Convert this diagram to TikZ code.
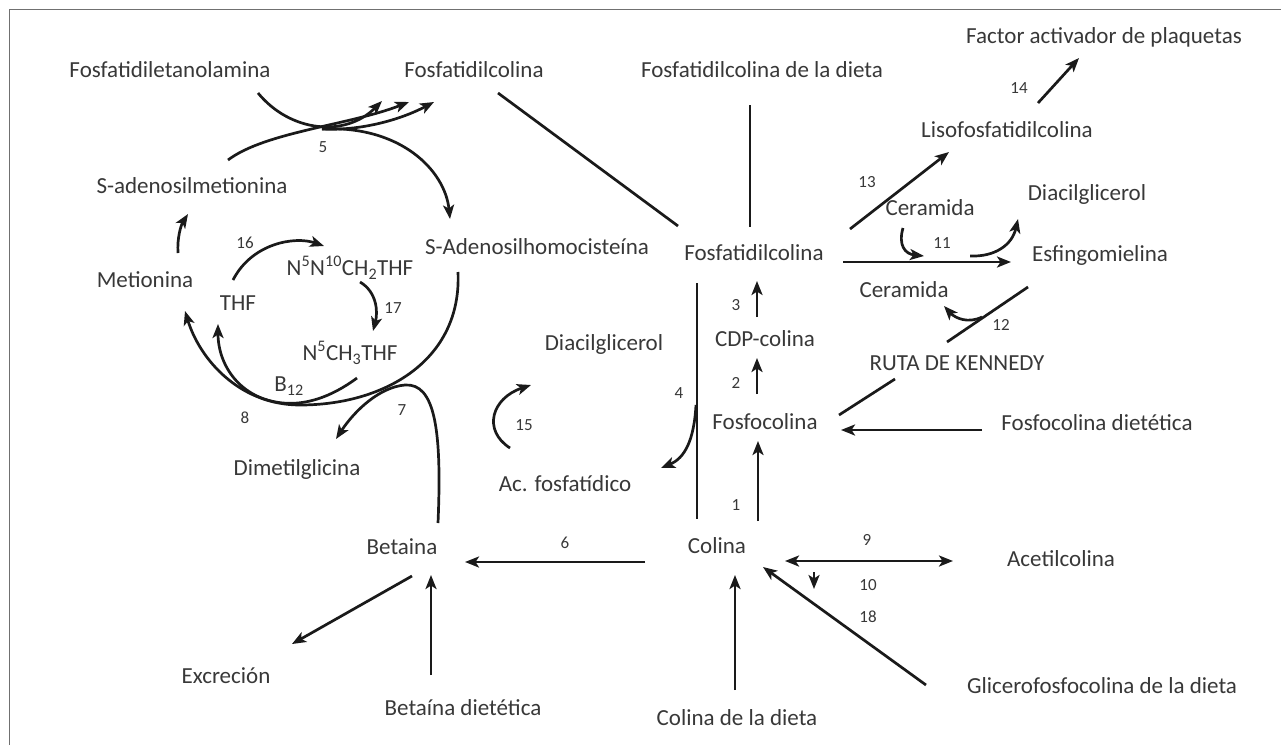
\documentclass[tikz,border=0pt]{standalone}
\usepackage{fontspec}
\setmainfont{Carlito}
\usetikzlibrary{arrows.meta}
\definecolor{txt}{HTML}{383838}
\definecolor{ln}{HTML}{1A1A1A}
\definecolor{frm}{HTML}{707070}
\begin{document}
\begin{tikzpicture}[x=1pt,y=-1pt,
  lbl/.style={text=txt, inner sep=0pt, font=\fontsize{23}{26}\selectfont, text height=15pt, text depth=0pt},
  num/.style={text=txt, inner sep=0pt, font=\fontsize{17}{19}\selectfont, text height=11pt, text depth=0pt},
  con/.style={draw=ln, line width=2.7pt},
  arr/.style={con, -{Stealth[length=14pt,width=11pt,inset=3.5pt]}},
  darr/.style={con, {Stealth[length=14pt,width=11pt,inset=3.5pt]}-{Stealth[length=14pt,width=11pt,inset=3.5pt]}}]
\useasboundingbox (0,0) rectangle (1281,745);
\draw[frm, line width=1.5pt] (9.5,745) -- (9.5,9.5) -- (1281,9.5);

% ---------- nodes ----------
\node[lbl] (fe)    at (170,70)  {Fosfatidiletanolamina};
\node[lbl] (pc1)   at (474,70)  {Fosfatidilcolina};
\node[lbl] (pcd)   at (762,70)  {Fosfatidilcolina de la dieta};
\node[lbl] (paf)   at (1104,36) {Factor activador de plaquetas};
\node[lbl] (lpc)   at (1007,130) {Lisofosfatidilcolina};
\node[lbl] (sam)   at (192,186) {S-adenosilmetionina};
\node[lbl] (met)   at (145,280) {Metionina};
\node[lbl] (thf)   at (238,303) {THF};
\node[lbl] (n5n10) at (350,268) {N\textsuperscript{5}N\textsuperscript{10}CH\textsubscript{2}THF};
\node[lbl] (n5ch3) at (350,353) {N\textsuperscript{5}CH\textsubscript{3}THF};
\node[lbl] (b12)   at (289,384) {B\textsubscript{12}};
\node[lbl] (sah)   at (537,247) {S-Adenosilhomocisteína};
\node[lbl] (pc)    at (754,253) {Fosfatidilcolina};
\node[lbl] (cer1)  at (930,208) {Ceramida};
\node[lbl] (dag2)  at (1087,193) {Diacilglicerol};
\node[lbl] (esf)   at (1100,254) {Esfingomielina};
\node[lbl] (cer2)  at (904,290) {Ceramida};
\node[lbl] (ken)   at (957,363) {RUTA DE KENNEDY};
\node[lbl] (cdp)   at (765,339) {CDP-colina};
\node[lbl] (pcho)  at (765,422) {Fosfocolina};
\node[lbl] (pchod) at (1097,423) {Fosfocolina dietética};
\node[lbl] (dag1)  at (604,343) {Diacilglicerol};
\node[lbl] (pa)    at (565,484) {Ac. fosfatídico};
\node[lbl] (dmg)   at (297,468) {Dimetilglicina};
\node[lbl] (bet)   at (402,547) {Betaina};
\node[lbl] (col)   at (717,546) {Colina};
\node[lbl] (ach)   at (1061,559) {Acetilcolina};
\node[lbl] (exc)   at (226,676) {Excreción};
\node[lbl] (betd)  at (463,708) {Betaína dietética};
\node[lbl] (cold)  at (737,718) {Colina de la dieta};
\node[lbl] (gpc)   at (1102,686) {Glicerofosfocolina de la dieta};

% ---------- step numbers ----------
\node[num] (n1)  at (736,505) {1};
\node[num] (n2)  at (736,383) {2};
\node[num] (n3)  at (736,305) {3};
\node[num] (n4)  at (679,393) {4};
\node[num] (n5)  at (323,147) {5};
\node[num] (n6)  at (565,543) {6};
\node[num] (n7)  at (402,410) {7};
\node[num] (n8)  at (245,418) {8};
\node[num] (n9)  at (867,540) {9};
\node[num] (n10) at (868,585) {10};
\node[num] (n11) at (942,243) {11};
\node[num] (n12) at (1001,325) {12};
\node[num] (n13) at (867,182) {13};
\node[num] (n14) at (1019,88) {14};
\node[num] (n15) at (524,425) {15};
\node[num] (n16) at (245,243) {16};
\node[num] (n17) at (393,308) {17};
\node[num] (n18) at (868,617) {18};

% ---------- connector end points ----------
\coordinate (feS)  at (258,93);
\coordinate (samS) at (228,160);
\coordinate (j5)   at (322,129);
\coordinate (t5a)  at (382,101);
\coordinate (t5b)  at (409,102);
\coordinate (t5c)  at (434,102);
\coordinate (sahT) at (450,219);
\coordinate (metS) at (178,253);
\coordinate (samT) at (188,214);
\coordinate (thfS) at (233,280);
\coordinate (n10T) at (324,246);
\coordinate (n10S) at (360,282);
\coordinate (ch3T) at (373,331);
\coordinate (sahS) at (458,272);
\coordinate (metT) at (185,311);
\coordinate (ch3S) at (357,378);
\coordinate (thfT) at (218,324);
\coordinate (betU) at (438,523);
\coordinate (dmgT) at (336,439);
\coordinate (paS)  at (510,448);
\coordinate (dagT) at (531,385);
\coordinate (l4S)  at (696,405);
\coordinate (paT)  at (661,468);
\coordinate (pc1S) at (498,93);
\coordinate (pcW)  at (678,226);
\coordinate (pcdS) at (750,105);
\coordinate (pcN)  at (750,227);
\coordinate (l13S) at (850,229);
\coordinate (lpcT) at (949,152);
\coordinate (l14S) at (1038,103);
\coordinate (pafT) at (1079,58);
\coordinate (pcE)  at (843,262);
\coordinate (esfT) at (1011,262);
\coordinate (c11S) at (903,228);
\coordinate (c11T) at (924,256);
\coordinate (d11S) at (970,256);
\coordinate (d11T) at (1018,219);
\coordinate (l12a) at (947,342);
\coordinate (l12b) at (1028,287);
\coordinate (c12S) at (982,317);
\coordinate (c12T) at (944,306);
\coordinate (pchoE) at (839,415);
\coordinate (kenW) at (895,379);
\coordinate (pchodW) at (982,430);
\coordinate (pchoT) at (841,430);
\coordinate (a3S) at (757,317);
\coordinate (a3T) at (757,281);
\coordinate (a2S) at (757,394);
\coordinate (a2T) at (757,358);
\coordinate (a1S) at (758,521);
\coordinate (a1T) at (758,441);
\coordinate (l4T) at (697,283);
\coordinate (l4B) at (697,519);
\coordinate (a6S) at (645,562);
\coordinate (a6T) at (465,562);
\coordinate (excS) at (412,576);
\coordinate (excT) at (292,644);
\coordinate (betdS) at (431,675);
\coordinate (betdT) at (431,575);
\coordinate (a9L) at (785,561);
\coordinate (a9R) at (953,561);
\coordinate (a10S) at (814,572);
\coordinate (a10T) at (814,589);
\coordinate (gpcS) at (926,685);
\coordinate (colT18) at (763,567);
\coordinate (coldS) at (735,690);
\coordinate (colT) at (735,575);

% ---------- connectors ----------
% reaction 5
\draw[arr] (feS) .. controls (290,132) and (345,138) .. (t5a);
\draw[arr] (samS) .. controls (265,132) and (350,125) .. (t5b);
\draw[arr] (j5) .. controls (360,131) and (400,120) .. (t5c);
\draw[arr] (j5) .. controls (400,125) and (445,170) .. (sahT);
% methionine cycle
\draw[arr] (metS) .. controls (177,238) and (181,225) .. (samT);
\draw[arr] (thfS) .. controls (252,243) and (295,236) .. (n10T);
\draw[arr] (n10S) .. controls (377,292) and (378,312) .. (ch3T);
\draw[arr] (sahS) .. controls (462,360) and (385,405) .. (300,405) .. controls (240,405) and (200,360) .. (metT);
\draw[arr] (ch3S) .. controls (330,398) and (305,405) .. (283,403) .. controls (240,399) and (218,365) .. (thfT);
% 7
\draw[arr] (betU) .. controls (442,430) and (435,383) .. (405,385) .. controls (380,387) and (355,410) .. (dmgT);
% 15, 4
\draw[arr] (paS) .. controls (482,430) and (492,398) .. (dagT);
\draw[arr] (l4S) .. controls (694,440) and (685,458) .. (paT);
% lines to central PC
\draw[con] (pc1S) -- (pcW);
\draw[con] (pcdS) -- (pcN);
\draw[con] (l4T) -- (l4B);
% right part
\draw[arr] (l13S) -- (lpcT);
\draw[arr] (l14S) -- (pafT);
\draw[arr] (pcE) -- (esfT);
\draw[arr] (c11S) .. controls (898,245) and (905,254) .. (c11T);
\draw[arr] (d11S) .. controls (995,257) and (1012,245) .. (d11T);
\draw[con] (l12a) -- (l12b);
\draw[arr] (c12S) .. controls (968,324) and (955,318) .. (c12T);
\draw[con] (pchoE) -- (kenW);
\draw[arr] (pchodW) -- (pchoT);
% Kennedy pathway
\draw[arr] (a3S) -- (a3T);
\draw[arr] (a2S) -- (a2T);
\draw[arr] (a1S) -- (a1T);
% bottom
\draw[arr] (a6S) -- (a6T);
\draw[arr] (excS) -- (excT);
\draw[arr] (betdS) -- (betdT);
\draw[darr] (a9L) -- (a9R);
\draw[arr] (a10S) -- (a10T);
\draw[arr] (gpcS) -- (colT18);
\draw[arr] (coldS) -- (colT);
\end{tikzpicture}
\end{document}
